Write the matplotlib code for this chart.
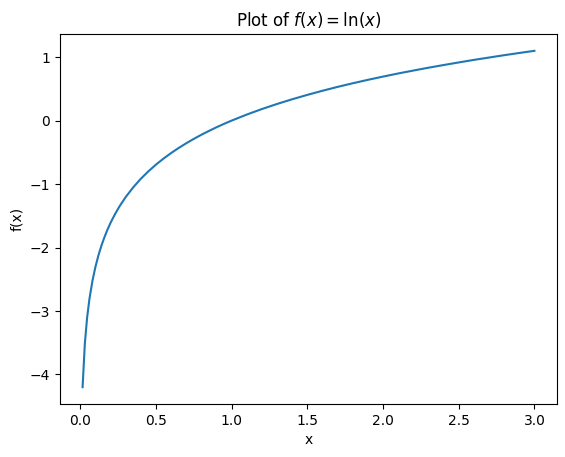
import matplotlib
matplotlib.use("Agg")
import matplotlib.pyplot as plt

# points
x_vals = [0.015, 0.03, 0.045, 0.06, 0.08, 0.10, 0.12, 0.14, 0.16, 0.18, 0.20,
          0.23, 0.26, 0.30, 0.35, 0.40, 0.45, 0.50, 0.55, 0.60, 0.65, 0.70,
          0.75, 0.80, 0.85, 0.90, 0.95, 1.00, 1.10, 1.20, 1.30, 1.40, 1.50,
          1.60, 1.70, 1.80, 1.90, 2.00, 2.10, 2.20, 2.30, 2.40, 2.50, 2.60,
          2.70, 2.80, 2.90, 3.00]
y_vals = [-4.200, -3.507, -3.101, -2.813, -2.526, -2.303, -2.120, -1.966, -1.833,
          -1.715, -1.609, -1.470, -1.347, -1.204, -1.050, -0.916, -0.799, -0.693,
          -0.598, -0.511, -0.431, -0.357, -0.288, -0.223, -0.163, -0.105, -0.051,
          0.000, 0.095, 0.182, 0.262, 0.336, 0.405, 0.470, 0.531, 0.588, 0.642,
          0.693, 0.742, 0.788, 0.833, 0.875, 0.916, 0.956, 0.993, 1.030, 1.065,
          1.099]

fig = plt.figure(figsize=(5.65, 4.57), dpi=100)
ax = fig.add_axes([60 / 565, 53 / 457, 497 / 565, 370 / 457])
ax.plot(x_vals, y_vals, '-')
ax.set_xlabel('x')
ax.set_ylabel('f(x)')
ax.set_title(r'Plot of $f(x) = \ln(x)$')
fig.savefig('out.png', dpi=100)
